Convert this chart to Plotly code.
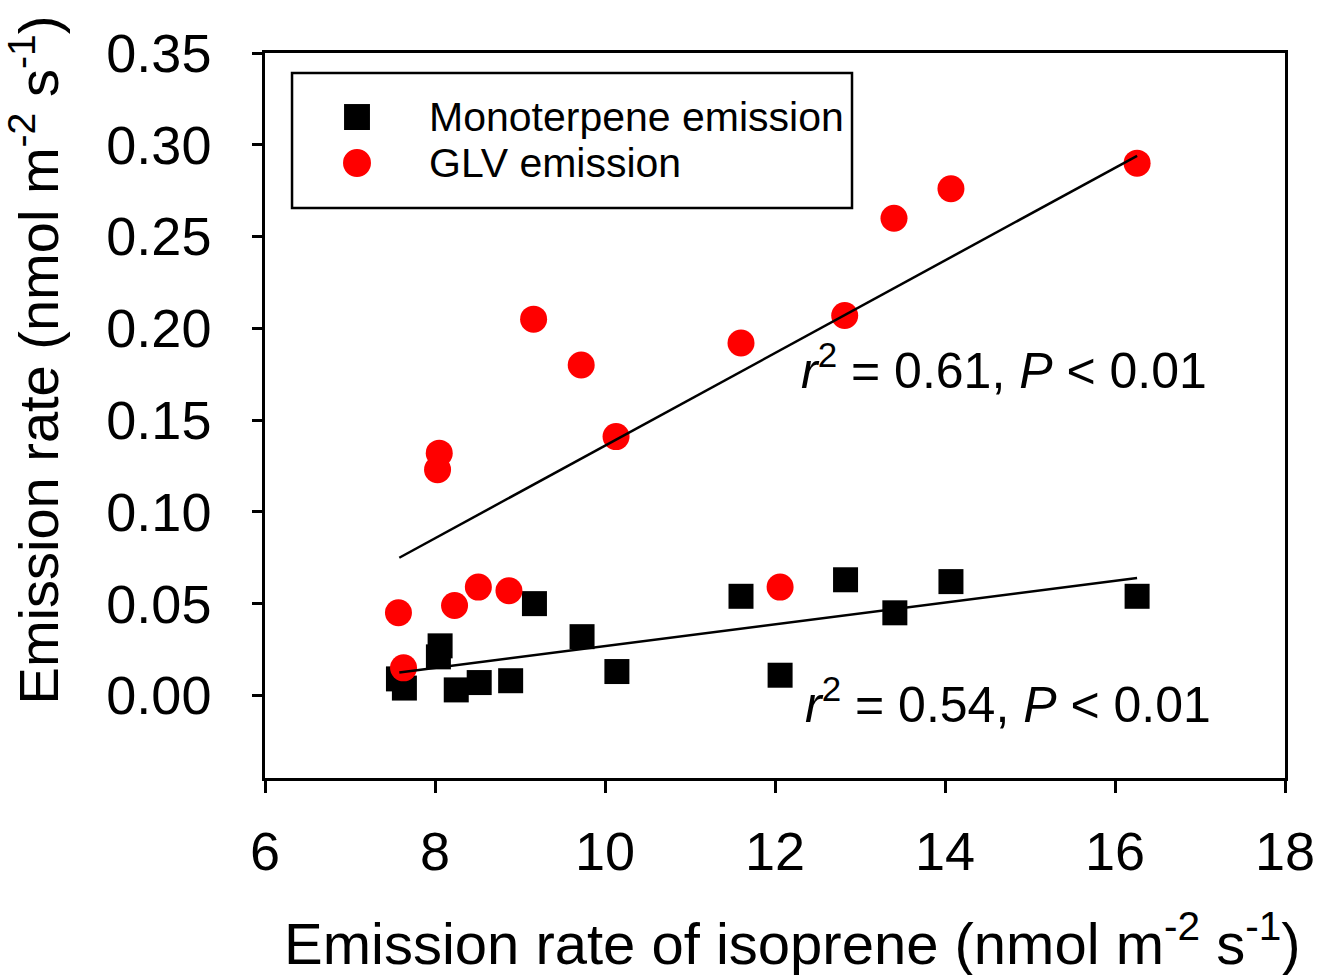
import plotly.graph_objects as go

# Data
isoprene_glv = [7.57, 7.63, 8.05, 8.03, 8.23, 8.51, 8.87, 9.16, 9.72, 10.13, 11.60, 12.06, 12.82, 13.40, 14.07, 16.26]
glv_emission = [0.045, 0.015, 0.132, 0.123, 0.049, 0.059, 0.057, 0.205, 0.180, 0.141, 0.192, 0.059, 0.207, 0.260, 0.276, 0.290]

isoprene_mono = [7.57, 7.64, 8.06, 8.04, 8.25, 8.52, 8.89, 9.17, 9.73, 10.14, 11.60, 12.06, 12.83, 13.41, 14.07, 16.26]
mono_emission = [0.009, 0.004, 0.027, 0.021, 0.003, 0.007, 0.008, 0.050, 0.032, 0.013, 0.054, 0.011, 0.063, 0.045, 0.062, 0.054]

fit_x = [7.58, 16.26]
glv_fit_y = [0.075, 0.294]
mono_fit_y = [0.0125, 0.064]

series_names = ["Monoterpene emission", "GLV emission"]
y_ticks = [0.00, 0.05, 0.10, 0.15, 0.20, 0.25, 0.30, 0.35]
x_ticks = [6, 8, 10, 12, 14, 16, 18]

FONT = "Liberation Sans, Arial, sans-serif"
RED = "#ff0000"

fig = go.Figure()
fig.add_trace(go.Scatter(
    x=isoprene_mono, y=mono_emission, mode="markers", name=series_names[0],
    marker=dict(symbol="square", size=25, color="black", line=dict(width=0)),
    showlegend=False,
))
fig.add_trace(go.Scatter(
    x=isoprene_glv, y=glv_emission, mode="markers", name=series_names[1],
    marker=dict(symbol="circle", size=27, color=RED, line=dict(width=0)),
    showlegend=False,
))
fig.add_trace(go.Scatter(
    x=fit_x, y=glv_fit_y, mode="lines", showlegend=False,
    line=dict(color="black", width=2.5),
))
fig.add_trace(go.Scatter(
    x=fit_x, y=mono_fit_y, mode="lines", showlegend=False,
    line=dict(color="black", width=2.5),
))

# Legend box drawn in paper coordinates (symbols large like the reference)
fig.add_shape(type="rect", xref="paper", yref="paper", x0=0.0265, x1=0.5755, y0=0.7862, y1=0.9724,
              line=dict(color="black", width=2.5), fillcolor="white", layer="above")
fig.add_shape(type="rect", xref="paper", yref="paper",
              x0=0.0902 - 0.0127, x1=0.0902 + 0.0127, y0=0.9117 - 0.0179, y1=0.9117 + 0.0179,
              line=dict(width=0), fillcolor="black", layer="above")
fig.add_shape(type="circle", xref="paper", yref="paper",
              x0=0.0902 - 0.0137, x1=0.0902 + 0.0137, y0=0.8483 - 0.0193, y1=0.8483 + 0.0193,
              line=dict(width=0), fillcolor=RED, layer="above")
for name, yy in zip(series_names, [0.9117, 0.8483]):
    fig.add_annotation(x=0.1588, y=yy, xref="paper", yref="paper", xanchor="left", yanchor="middle",
                       text=name, showarrow=False,
                       font=dict(family=FONT, size=41, color="black"))

fig.add_annotation(x=12.28, y=0.179, xref="x", yref="y", xanchor="left", yanchor="middle",
                   text="<i>r</i><sup>2</sup> = 0.61, <i>P</i> &lt; 0.01", showarrow=False,
                   font=dict(family=FONT, size=50, color="black"))
fig.add_annotation(x=12.33, y=-0.003, xref="x", yref="y", xanchor="left", yanchor="middle",
                   text="<i>r</i><sup>2</sup> = 0.54, <i>P</i> &lt; 0.01", showarrow=False,
                   font=dict(family=FONT, size=50, color="black"))

# Axis titles
fig.add_annotation(x=-0.225, y=0.5766, xref="paper", yref="paper", xanchor="center", yanchor="middle",
                   textangle=-90, text="Emission rate (nmol m<sup>-2</sup> s<sup>-1</sup>)",
                   showarrow=False, font=dict(family=FONT, size=56, color="black"))
fig.add_annotation(x=0.5167, y=-0.2234, xref="paper", yref="paper", xanchor="center", yanchor="middle",
                   text="Emission rate of isoprene (nmol m<sup>-2</sup> s<sup>-1</sup>)",
                   showarrow=False, font=dict(family=FONT, size=58, color="black"))

fig.update_layout(
    width=1321, height=975,
    margin=dict(l=265, r=36, t=53, b=197, autoexpand=False),
    paper_bgcolor="white", plot_bgcolor="white",
    font=dict(family=FONT, color="black"),
    showlegend=False,
    xaxis=dict(
        range=[6, 18], tickvals=x_ticks, ticktext=[str(v) for v in x_ticks],
        showline=True, linecolor="black", linewidth=2.5, mirror=True,
        ticks="outside", ticklen=12, tickwidth=2.5, tickcolor="black",
        showgrid=False, zeroline=False, automargin=False,
        tickfont=dict(family=FONT, size=54, color="black"),
        ticklabelstandoff=12,
    ),
    yaxis=dict(
        range=[-0.045, 0.35], tickvals=y_ticks, ticktext=[f"{v:.2f}" for v in y_ticks],
        showline=True, linecolor="black", linewidth=2.5, mirror=True,
        ticks="outside", ticklen=10, tickwidth=2.5, tickcolor="black",
        showgrid=False, zeroline=False, automargin=False,
        tickfont=dict(family=FONT, size=54, color="black"),
        ticklabelstandoff=30,
    ),
)

fig.write_html("out.html")
